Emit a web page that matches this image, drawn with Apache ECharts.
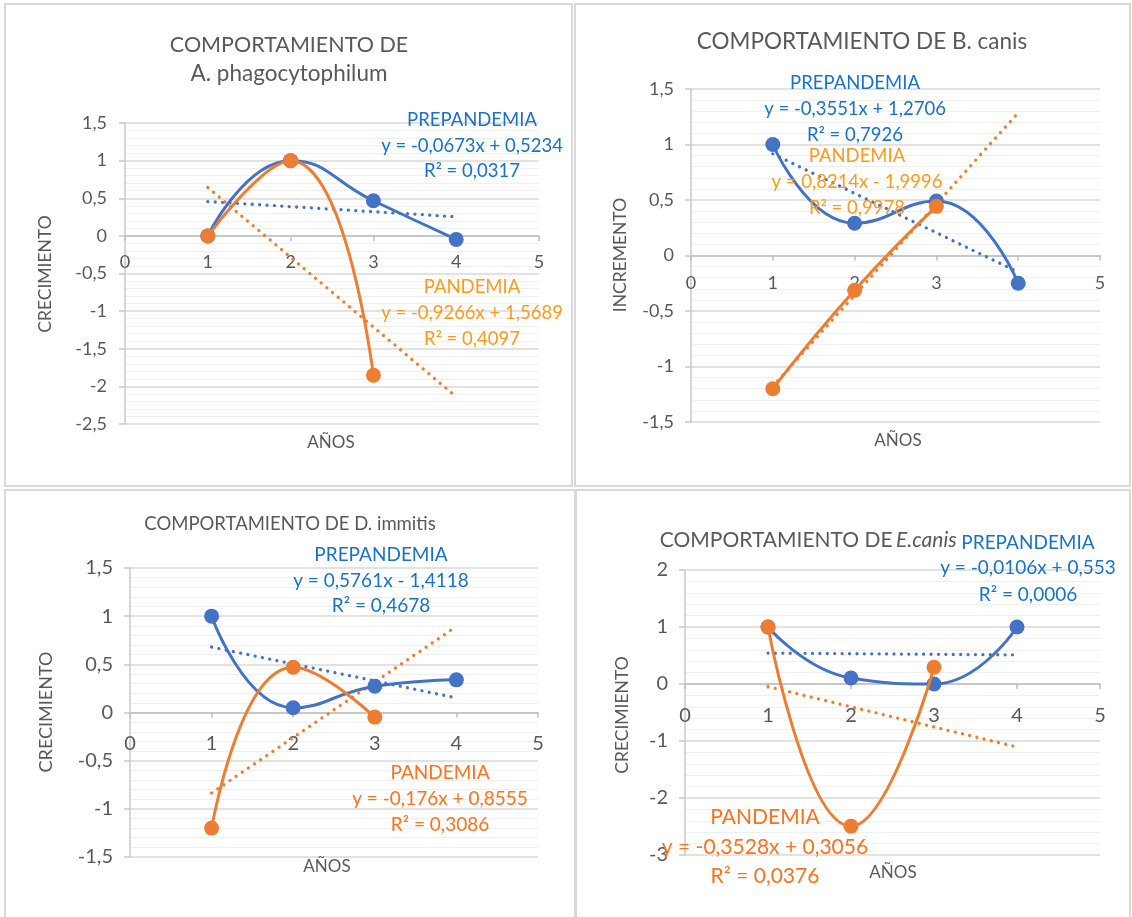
<!DOCTYPE html>
<html>
<head>
<meta charset="utf-8">
<script src="https://cdn.jsdelivr.net/npm/echarts@6/dist/echarts.min.js"></script>
<style>
  html, body { margin: 0; padding: 0; background: #ffffff; }
  #chart { width: 1132px; height: 917px; }
</style>
</head>
<body>
<div id="chart"></div>
<script>
// Years observed (x values shared by every panel)
const years = [1, 2, 3, 4];
const trendRange = [1, 4];

// A. phagocytophilum
const anaPre = [0, 1, 0.467, -0.047];
const anaPan = [0, 1, -1.853];
const anaPreFit = [-0.0673, 0.5234];
const anaPanFit = [-0.9266, 1.5689];
const anaPreText = ['PREPANDEMIA', 'y = -0,0673x + 0,5234', 'R² = 0,0317'];
const anaPanText = ['PANDEMIA', 'y = -0,9266x + 1,5689', 'R² = 0,4097'];

// B. canis
const babPre = [1, 0.291, 0.491, -0.25];
const babPan = [-1.2, -0.313, 0.443];
const babPreFit = [-0.3551, 1.2706];
const babPanFit = [0.8214, -1.9996];
const babPreText = ['PREPANDEMIA', 'y = -0,3551x + 1,2706', 'R² = 0,7926'];
const babPanText = ['PANDEMIA', 'y = 0,8214x - 1,9996', 'R² = 0,9978'];

// D. immitis
const dirPre = [1, 0.05, 0.273, 0.339];
const dirPan = [-1.2, 0.469, -0.048];
const dirPreFit = [-0.176, 0.8555];
const dirPanFit = [0.5761, -1.4118];
const dirPreText = ['PREPANDEMIA', 'y = 0,5761x - 1,4118', 'R² = 0,4678'];
const dirPanText = ['PANDEMIA', 'y = -0,176x + 0,8555', 'R² = 0,3086'];

// E. canis
const ehrPre = [1, 0.106, 0, 1];
const ehrPan = [1, -2.494, 0.294];
const ehrPreFit = [-0.0106, 0.553];
const ehrPanFit = [-0.3528, 0.3056];
const ehrPreText = ['PREPANDEMIA', 'y = -0,0106x + 0,553', 'R² = 0,0006'];
const ehrPanText = ['PANDEMIA', 'y = -0,3528x + 0,3056', 'R² = 0,0376'];

// Y axis ranges: [min, max, interval]
const anaY = [-2.5, 1.5, 0.5];
const babY = [-1.5, 1.5, 0.5];
const dirY = [-1.5, 1.5, 0.5];
const ehrY = [-3, 2, 1];

const FONT = 'Lato, "Open Sans", sans-serif';
const BLUE = '#4472C4';
const ORANGE = '#ED7D31';
const TXT_BLUE = '#1A72C4';
const TXT_ORANGE_LIGHT = '#FF9A1E';
const TXT_ORANGE = '#F8731E';
const GREY = '#595959';

const panels = [
  { grid: { left: 125, top: 123, width: 414, height: 301 }, y: anaY, pre: anaPre, pan: anaPan, preFit: anaPreFit, panFit: anaPanFit, lab: 18, xMargin: 17, yMargin: 18 },
  { grid: { left: 691, top: 89, width: 409, height: 333 }, y: babY, pre: babPre, pan: babPan, preFit: babPreFit, panFit: babPanFit, lab: 18, xMargin: 19, yMargin: 17 },
  { grid: { left: 130, top: 568, width: 408, height: 289 }, y: dirY, pre: dirPre, pan: dirPan, preFit: dirPreFit, panFit: dirPanFit, lab: 20, xMargin: 21, yMargin: 17 },
  { grid: { left: 685, top: 570, width: 415, height: 285 }, y: ehrY, pre: ehrPre, pan: ehrPan, preFit: ehrPreFit, panFit: ehrPanFit, lab: 20, xMargin: 22, yMargin: 17 }
];

const comma = v => String(v).replace('.', ',');
const pairs = (vals) => vals.map((v, k) => [years[k], v]);
const fitLine = (fit) => trendRange.map(x => [x, fit[0] * x + fit[1]]);

const grids = [], xAxes = [], yAxes = [], series = [];
panels.forEach((p, i) => {
  grids.push(Object.assign({ containLabel: false }, p.grid));
  xAxes.push({
    gridIndex: i, type: 'value', min: 0, max: 5, interval: 1, position: 'bottom', offset: 0,
    axisLine: { onZero: false, lineStyle: { color: '#bfbfbf', width: 1.5 } },
    axisTick: { show: true, length: 5, lineStyle: { color: '#bfbfbf', width: 1.5 } },
    axisLabel: { color: GREY, fontSize: p.lab, fontFamily: FONT, margin: p.xMargin, formatter: comma },
    splitLine: { show: false }
  });
  yAxes.push({
    gridIndex: i, type: 'value', min: p.y[0], max: p.y[1], interval: p.y[2],
    axisLine: { show: true, onZero: false, lineStyle: { color: '#c8c8c8', width: 1.5 } },
    axisTick: { show: true, length: 6, lineStyle: { color: '#c8c8c8', width: 1.5 } },
    axisLabel: { color: GREY, fontSize: p.lab, fontFamily: FONT, margin: p.yMargin, formatter: comma },
    splitLine: { show: true, lineStyle: { color: '#d9d9d9', width: 1.5 } },
    minorTick: { show: false, splitNumber: 5 },
    minorSplitLine: { show: true, lineStyle: { color: '#efefef', width: 1 } }
  });
  const dotted = (color, fit) => ({
    type: 'line', xAxisIndex: i, yAxisIndex: i, data: fitLine(fit),
    symbol: 'none', silent: true, z: 2,
    lineStyle: { color: color, width: 3.3, type: [0.01, 7.4], cap: 'round' }
  });
  const solid = (color, vals, z) => ({
    type: 'line', xAxisIndex: i, yAxisIndex: i, data: pairs(vals),
    smooth: 0.5, symbol: 'circle', symbolSize: 15, z: z,
    lineStyle: { color: color, width: 3 }, itemStyle: { color: color }
  });
  series.push(dotted(BLUE, p.preFit));
  series.push(dotted(ORANGE, p.panFit));
  series.push(solid(BLUE, p.pre, 3));
  series.push(solid(ORANGE, p.pan, 4));
});

// Free text helpers
const txt = (text, x, y, size, color, extra) => Object.assign({
  type: 'text', x: x, y: y, z: 100,
  style: { text: text, fill: color, font: size + 'px ' + FONT, align: 'center', verticalAlign: 'middle' }
}, extra || {});
const block = (lines, x, ys, size, color) => lines.map((t, k) => txt(t, x, ys[k], size, color));
const frame = (x, y, w, h) => ({
  type: 'rect', z: 0, silent: true,
  shape: { x: x, y: y, width: w, height: h },
  style: { fill: 'none', stroke: '#d9d9d9', lineWidth: 2 }
});
const vert = { rotation: Math.PI / 2 };

const graphics = [
  frame(5, 4, 567, 482), frame(575, 4, 555, 482),
  frame(5, 490, 570, 440), frame(576, 490, 554, 440),

  // A. phagocytophilum
  txt('COMPORTAMIENTO DE', 289, 45, 21.5, GREY),
  txt('A. phagocytophilum', 289, 74, 22.5, GREY),
  txt('CRECIMIENTO', 45, 274, 17.5, GREY, vert),
  txt('AÑOS', 331, 443, 17, GREY),
  ...block(anaPreText, 472, [120, 146, 171], 18.5, TXT_BLUE),
  ...block(anaPanText, 472, [287, 313, 339], 18.5, TXT_ORANGE_LIGHT),

  // B. canis
  txt('COMPORTAMIENTO DE B. canis', 862, 42, 22.5, GREY),
  txt('INCREMENTO', 620, 255, 17.5, GREY, vert),
  txt('AÑOS', 898, 441, 17, GREY),
  ...block(babPreText, 855, [83, 109, 135], 18.5, TXT_BLUE),
  ...block(babPanText, 857, [156, 182, 208], 18.5, TXT_ORANGE_LIGHT),

  // D. immitis
  txt('COMPORTAMIENTO DE D. immitis', 290, 524, 18.5, GREY),
  txt('CRECIMIENTO', 46, 712, 18, GREY, vert),
  txt('AÑOS', 327, 867, 17, GREY),
  ...block(dirPreText, 381, [555, 581, 606], 19, TXT_BLUE),
  ...block(dirPanText, 440, [773, 799, 825], 19, TXT_ORANGE),

  // E. canis
  txt('', 0, 0, 1, GREY, { style: { text: 'COMPORTAMIENTO DE ', x: 898, y: 540, fill: GREY, font: '21px ' + FONT, align: 'right', verticalAlign: 'middle' } }),
  txt('', 0, 0, 1, GREY, { style: { text: 'E.canis', x: 896, y: 540, fill: GREY, font: 'italic 21px ' + FONT, align: 'left', verticalAlign: 'middle' } }),
  txt('CRECIMIENTO', 622, 715, 17.5, GREY, vert),
  txt('AÑOS', 893, 873, 17, GREY),
  ...block(ehrPreText, 1028, [543, 568, 595], 19, TXT_BLUE),
  ...block(ehrPanText, 765, [817, 847, 876], 21, TXT_ORANGE)
];

const chart = echarts.init(document.getElementById('chart'), null, { renderer: 'canvas' });
chart.setOption({
  backgroundColor: '#ffffff',
  animation: false,
  grid: grids,
  xAxis: xAxes,
  yAxis: yAxes,
  series: series,
  graphic: graphics
});

// Lift each x axis from the bottom edge of its grid onto the y = 0 line,
// using the y axis scale to locate zero.
const lifted = panels.map((p, i) => {
  const zeroPx = chart.convertToPixel({ yAxisIndex: i }, 0);
  const bottomPx = chart.convertToPixel({ yAxisIndex: i }, p.y[0]);
  return { offset: zeroPx - bottomPx };
});
chart.setOption({ xAxis: lifted });
</script>
</body>
</html>
